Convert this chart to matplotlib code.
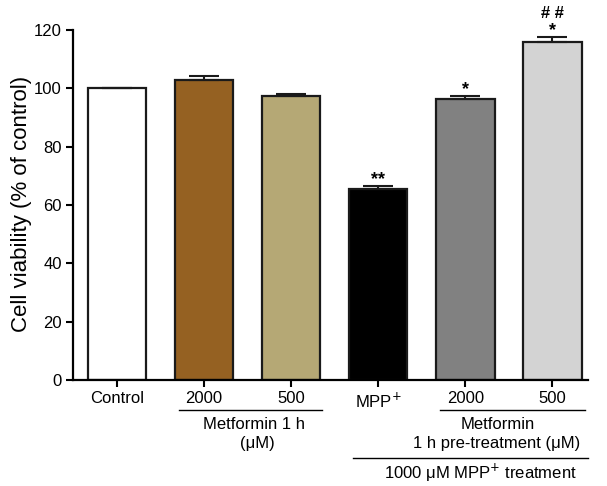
import matplotlib
matplotlib.use("Agg")
import matplotlib.pyplot as plt
import numpy as np

plt.rcParams['font.family'] = ['Liberation Sans', 'DejaVu Sans']

categories = ["Control", "2000", "500", "MPP$^{+}$", "2000", "500"]
values = [100, 102.9, 97.4, 65.4, 96.3, 116.0]
errors = [0, 1.3, 0.6, 1.1, 1.0, 1.6]
colors = ["#ffffff", "#956122", "#b5a875", "#000000", "#818181", "#d3d3d3"]
stars = ["", "", "", "**", "*", "*"]
hashes = ["", "", "", "", "", "# #"]

fig = plt.figure(figsize=(6.07, 4.86), dpi=100)
ax = fig.add_axes([0.120, 0.218, 0.849, 0.720])
x = np.arange(len(categories))
ax.bar(x, values, width=0.67, color=colors, edgecolor="#1a1a1a", linewidth=1.6, zorder=2)
ax.errorbar(x, values, yerr=[np.zeros(len(errors)), errors], fmt="none",
            ecolor="#1a1a1a", elinewidth=1.5, capsize=10.5, capthick=1.5, zorder=3)

for xi, v, e, s, h in zip(x, values, errors, stars, hashes):
    if s:
        ax.text(xi, v + e + 0.6, s, ha="center", va="baseline", fontsize=13,
                fontweight="bold", clip_on=False)
    if h:
        ax.text(xi, v + e + 6.4, h, ha="center", va="baseline", fontsize=12,
                fontweight="bold", clip_on=False)

ax.set_xlim(-0.505, 5.41)
ax.set_ylim(0, 120)
ax.set_yticks(np.arange(0, 121, 20))
ax.set_xticks(x)
ax.set_xticklabels(categories, fontsize=12)
ax.tick_params(axis="both", direction="out", length=5, width=1.5, labelsize=12, pad=3)
ax.set_ylabel("Cell viability (% of control)", fontsize=16)
ax.yaxis.set_label_coords(-0.08, 0.504)
for sp in ["top", "right"]:
    ax.spines[sp].set_visible(False)
for sp in ["left", "bottom"]:
    ax.spines[sp].set_linewidth(1.6)

tr = ax.get_xaxis_transform()
def hline(x0, x1, y):
    ax.plot([x0, x1], [y, y], color="black", lw=1.0, transform=tr, clip_on=False)

def ytr(py):
    return (380 - py) / 350.0

fs = 12
hline(0.71, 2.36, ytr(410))
ax.text(1.57, ytr(424), "Metformin 1 h", transform=tr, ha="center", va="center", fontsize=fs)
ax.text(1.61, ytr(443), "(\u03bcM)", transform=tr, ha="center", va="center", fontsize=fs)
hline(3.71, 5.37, ytr(410))
ax.text(4.37, ytr(424), "Metformin", transform=tr, ha="center", va="center", fontsize=fs)
ax.text(4.36, ytr(443), "1 h pre-treatment (\u03bcM)", transform=tr, ha="center", va="center", fontsize=fs)
hline(2.71, 5.41, ytr(458))
ax.text(4.17, ytr(473), "1000 \u03bcM MPP$^{+}$ treatment", transform=tr, ha="center", va="center", fontsize=fs)

fig.savefig("out.png", dpi=100)
